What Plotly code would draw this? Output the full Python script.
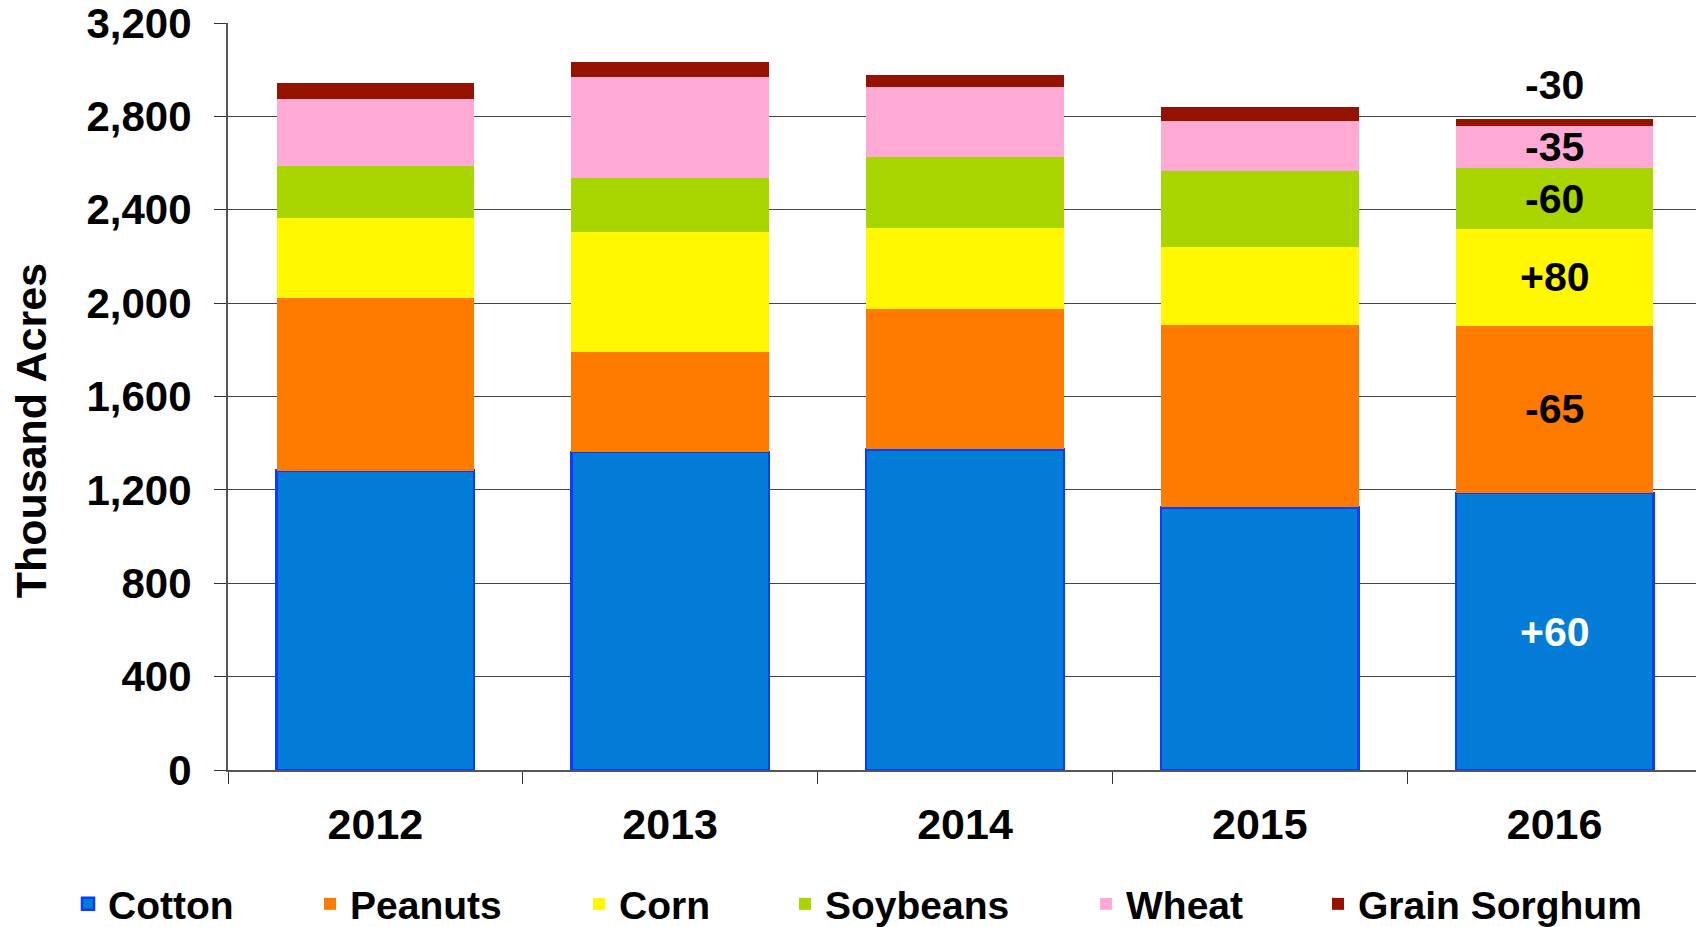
import plotly.graph_objects as go

years = ["2012", "2013", "2014", "2015", "2016"]

cotton = [1283, 1363, 1373, 1125, 1186]
peanuts = [738, 428, 603, 783, 718]
corn = [343, 513, 347, 332, 412]
soybeans = [222, 233, 303, 325, 264]
wheat = [290, 433, 298, 215, 180]
sorghum = [68, 65, 53, 62, 28]

# 2016 change labels (bottom to top)
changes = ["+60", "-65", "+80", "-60", "-35", "-30"]

crops = ["Cotton", "Peanuts", "Corn", "Soybeans", "Wheat", "Grain Sorghum"]
series = [cotton, peanuts, corn, soybeans, wheat, sorghum]
colors = ["#027cd7", "#ff7b00", "#fff800", "#a8d400", "#ffaad5", "#951200"]
outlines = ["#0a3cff", "#ff7b00", "#fff800", "#a8d400", "#ffaad5", "#951200"]

# page body adds an 8px margin, so the figure is drawn 8px smaller
W, H = 1696, 919
# left x (px) of each legend entry along the bottom
legend_x = [60, 302, 571, 777, 1078, 1310]
FONT = "Liberation Sans, Arial, sans-serif"

fig = go.Figure()
legends = {}
for i, (name, vals, col, line) in enumerate(zip(crops, series, colors, outlines)):
    key = "legend" if i == 0 else "legend%d" % (i + 1)
    fig.add_trace(go.Bar(
        x=years, y=vals, name=name, legend=key,
        marker=dict(color=col, line=dict(color=line, width=2.5 if name == "Cotton" else 0)),
    ))
    legends[key] = dict(orientation="h", xref="container", yref="container",
                        x=legend_x[i] / W, xanchor="left", y=1 - 896 / H, yanchor="middle",
                        bgcolor="rgba(0,0,0,0)",
                        font=dict(size=39, family=FONT, color="black", weight="bold"))

# change labels on the 2016 bar, placed at segment midpoints
last = len(years) - 1
base = 0
for i, (vals, lab) in enumerate(zip(series, changes)):
    v = vals[last]
    if i == len(series) - 1:
        fig.add_annotation(x=last, y=base + v, text=lab,
                           showarrow=False, yanchor="bottom", yshift=9,
                           font=dict(size=41, color="black", family=FONT, weight="bold"))
    else:
        fig.add_annotation(x=last, y=base + v / 2, text=lab,
                           showarrow=False,
                           font=dict(size=41, color="white" if i == 0 else "black",
                                     family=FONT, weight="bold"))
    base += v

fig.add_annotation(xref="paper", yref="paper", x=-0.134, y=0.454, text="Thousand Acres",
                   textangle=-90, showarrow=False, xanchor="center", yanchor="middle",
                   font=dict(size=43, color="black", family=FONT, weight="bold"))

fig.update_layout(
    width=W, height=H,
    margin=dict(l=220, r=2, t=15, b=157),
    barmode="stack", bargap=0.33,
    plot_bgcolor="white", paper_bgcolor="white",
    font=dict(family=FONT, color="black", weight="bold"),
    showlegend=True,
    xaxis=dict(type="category", range=[-0.5, last + 0.5],
               showline=True, linecolor="#555555", linewidth=2,
               ticks="outside", tickson="boundaries", ticklen=12, tickcolor="#333333",
               tickfont=dict(size=43, family=FONT, weight="bold"),
               ticklabelstandoff=15),
    yaxis=dict(range=[0, 3200], dtick=400, tickformat=",d",
               showgrid=True, gridcolor="#444444", gridwidth=1,
               showline=True, linecolor="#555555", linewidth=2, mirror=True,
               ticks="outside", ticklen=12, tickcolor="#333333",
               tickfont=dict(size=42, family=FONT, weight="bold"),
               ticklabelstandoff=14, ticklabeloverflow="allow", automargin=False,
               zeroline=False),
    **legends,
)

fig.write_html("out.html")
